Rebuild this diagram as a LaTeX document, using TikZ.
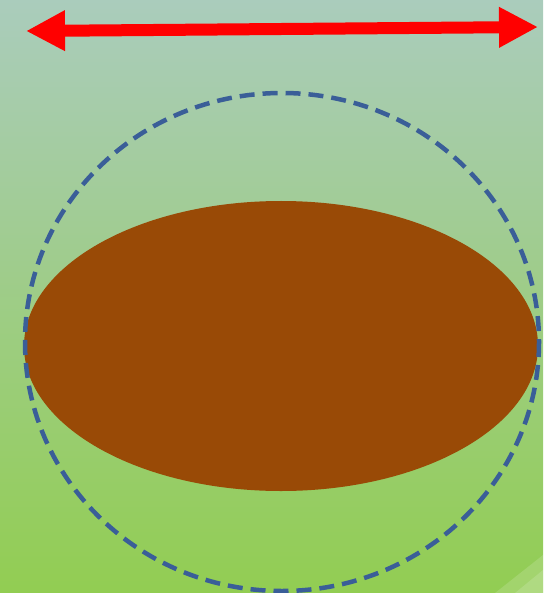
\documentclass[tikz,border=0pt]{standalone}
\usetikzlibrary{arrows.meta}
\definecolor{bgtop}{RGB}{170,204,188}
\definecolor{bgmid}{RGB}{166,207,150}
\definecolor{bgbot}{RGB}{146,205,82}
\definecolor{soilbrown}{RGB}{153,74,6}
\definecolor{ringblue}{RGB}{58,94,152}
\begin{document}
\begin{tikzpicture}[x=1pt, y=-1pt, line join=round, >=Triangle]
            \path
            (0,0) coordinate (NW)
            (543,593) coordinate (SE)
            (26,31) coordinate (L)
            (538,27) coordinate (R)
            (282,342) coordinate (O)
            (281,346) coordinate (M)
            ;
            \useasboundingbox (NW) rectangle (SE);
            \shade[shading angle=25, top color=bgtop, middle color=bgmid, bottom color=bgbot] (NW) rectangle (SE);
            % shine in the lower right corner
            \fill[white, opacity=0.15] (543,555) -- (543,593) -- (495,593) -- cycle;
            \fill[white, opacity=0.15] (543,570) -- (543,593) -- (515,593) -- cycle;
            \fill[soilbrown] (M) ellipse [x radius=257, y radius=145];
            \draw[ringblue, line width=4.5pt, dash pattern=on 15pt off 8pt] (O) ellipse [x radius=257, y radius=249];
            \draw[red, line width=12pt, {Triangle[length=39pt, width=38pt]}-{Triangle[length=39pt, width=38pt]}] (L) -- (R);
        \end{tikzpicture}
\end{document}
